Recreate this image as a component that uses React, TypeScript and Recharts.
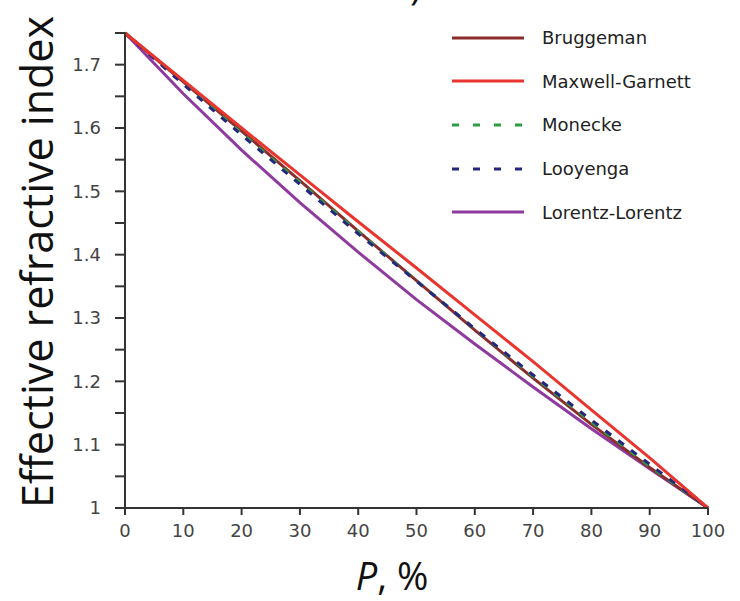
import { LineChart, Line, XAxis, YAxis } from 'recharts'

// porosity, %
const porosity = [0, 10, 20, 30, 40, 50, 60, 70, 80, 90, 100]

// effective refractive index for each model
const bruggeman = [1.75, 1.673, 1.595, 1.517, 1.437, 1.359, 1.281, 1.205, 1.132, 1.064, 1.0]
const maxwellGarnett = [1.75, 1.675, 1.6, 1.526, 1.452, 1.379, 1.305, 1.231, 1.155, 1.079, 1.0]
const monecke = [1.75, 1.671, 1.592, 1.514, 1.436, 1.359, 1.283, 1.208, 1.136, 1.066, 1.0]
const looyenga = [1.75, 1.669, 1.589, 1.511, 1.433, 1.358, 1.283, 1.21, 1.139, 1.069, 1.0]
const lorentzLorentz = [1.75, 1.654, 1.565, 1.482, 1.404, 1.329, 1.259, 1.191, 1.125, 1.062, 1.0]

const xTicks = [0, 10, 20, 30, 40, 50, 60, 70, 80, 90, 100]
const yTicks = [1, 1.05, 1.1, 1.15, 1.2, 1.25, 1.3, 1.35, 1.4, 1.45, 1.5, 1.55, 1.6, 1.65, 1.7, 1.75]
const yLabels = ['1', '1.1', '1.2', '1.3', '1.4', '1.5', '1.6', '1.7']

const series = [
  { key: 'lorentzLorentz', name: 'Lorentz-Lorentz', color: '#8e3a9e', dash: undefined },
  { key: 'bruggeman', name: 'Bruggeman', color: '#8b2d2d', dash: undefined },
  { key: 'monecke', name: 'Monecke', color: '#2e9e44', dash: '7 9' },
  { key: 'looyenga', name: 'Looyenga', color: '#26267f', dash: '7 9' },
  { key: 'maxwellGarnett', name: 'Maxwell-Garnett', color: '#e8352d', dash: undefined },
]

const legendOrder = ['bruggeman', 'maxwellGarnett', 'monecke', 'looyenga', 'lorentzLorentz']

const data = porosity.map((p, i) => ({
  p,
  bruggeman: bruggeman[i],
  maxwellGarnett: maxwellGarnett[i],
  monecke: monecke[i],
  looyenga: looyenga[i],
  lorentzLorentz: lorentzLorentz[i],
}))

const tickFont = { fontFamily: 'DejaVu Sans', fontSize: 18, fill: '#444' }

function formatY(v: number) {
  if (Math.abs(v * 10 - Math.round(v * 10)) > 1e-6) return ''
  const s = v === 1 ? '1' : v.toFixed(1)
  return yLabels.includes(s) ? s : ''
}

// legend drawn as a plain overlay so it does not shrink the plot area
function LegendBox() {
  return (
    <div
      style={{
        position: 'absolute',
        left: 452,
        top: 16,
        fontFamily: 'DejaVu Sans',
        fontSize: 18,
        color: '#222',
      }}
    >
      {legendOrder.map((k) => {
        const s = series.find((x) => x.key === k)!
        return (
          <div key={k} style={{ display: 'flex', alignItems: 'center', height: 43.6 }}>
            <svg width={72} height={6} style={{ marginRight: 18 }}>
              <line
                x1={0}
                y1={3}
                x2={72}
                y2={3}
                stroke={s.color}
                strokeWidth={3}
                strokeDasharray={s.dash ? '7 14' : undefined}
              />
            </svg>
            <span>{s.name}</span>
          </div>
        )
      })}
    </div>
  )
}

export default function App() {
  return (
    <div style={{ position: 'absolute', left: 0, top: 0, width: 740, height: 601, background: '#fff' }}>
      <LineChart width={740} height={601} data={data} margin={{ top: 33, right: 32, bottom: 63, left: 65 }}>
        <XAxis
          dataKey="p"
          type="number"
          domain={[0, 100]}
          ticks={xTicks}
          tick={tickFont}
          tickSize={7}
          tickMargin={9}
          height={30}
          stroke="#333"
          strokeWidth={2}
          label={{
            content: () => (
              <text x={392} y={590} textAnchor="middle" fontFamily="'Open Sans'" fontSize={38} fill="#111">
                <tspan fontStyle="italic">P</tspan>, %
              </text>
            ),
          }}
        />
        <YAxis
          type="number"
          domain={[1, 1.75]}
          ticks={yTicks}
          tickFormatter={formatY}
          tick={tickFont}
          tickSize={10}
          tickMargin={14}
          width={60}
          stroke="#333"
          strokeWidth={2}
          label={{
            content: () => (
              <text
                x={53}
                y={262}
                transform="rotate(-90 53 262)"
                textAnchor="middle"
                fontFamily="'Open Sans'"
                fontSize={43}
                fill="#111"
              >
                Effective refractive index
              </text>
            ),
          }}
        />
        {series.map((s) => (
          <Line
            key={s.key}
            dataKey={s.key}
            name={s.name}
            stroke={s.color}
            strokeWidth={3}
            strokeDasharray={s.dash}
            dot={false}
            isAnimationActive={false}
          />
        ))}
      </LineChart>
      <svg width={60} height={20} style={{ position: 'absolute', left: 395, top: 0 }}>
        <text x={15} y={0} fontFamily="'Open Sans'" fontSize={38} fill="#111">)</text>
      </svg>
      <LegendBox />
    </div>
  )
}
